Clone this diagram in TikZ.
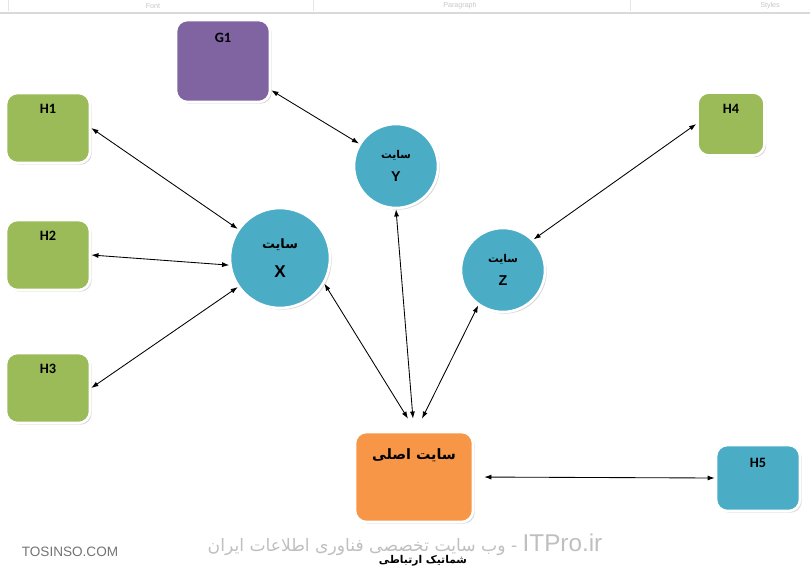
\documentclass[tikz,border=0pt]{standalone}
\usepackage{fontspec}
\setmainfont{Carlito}
\newfontfamily\arabicfont[Script=Arabic]{DejaVu Sans}
\newfontfamily\arialfont{Liberation Sans}
\TeXXeTstate=1
\usetikzlibrary{arrows.meta}
\usetikzlibrary{shadows}
\usetikzlibrary{calc}
\definecolor{cgreen}{HTML}{9BBB59}
\definecolor{cpurple}{HTML}{8064A2}
\definecolor{cblue}{HTML}{4BACC6}
\definecolor{corange}{HTML}{F79646}
\newcommand{\fatext}[1]{{\arabicfont\beginR #1\endR}}

\begin{document}
\begin{tikzpicture}[x=0.7pt, y=-0.7pt,
  box/.style={rectangle, rounded corners=8pt, draw=white, line width=1.8pt,
    drop shadow={shadow xshift=1.2pt, shadow yshift=-1.2pt, opacity=0.3},
    inner sep=0pt, font=\bfseries\fontsize{10}{12}\selectfont},
  gbox/.style={box, fill=cgreen, minimum width=58.8pt, text height=14.35pt, text depth=34.65pt},
  site/.style={circle, fill=cblue, draw=white, line width=1.8pt,
    drop shadow={shadow xshift=1.2pt, shadow yshift=-1.2pt, opacity=0.3},
    inner sep=0pt, align=center},
  link/.style={<->, >={Latex[length=5pt,width=3.5pt]}, line width=0.6pt},
  ribbon/.style={font=\arialfont\fontsize{5}{6}\selectfont, text=gray!45, inner sep=0pt},
]
\useasboundingbox (0,0) rectangle (810,574);
\clip (0,0) rectangle (810,574);
%% 리본 (위쪽 가장자리)
\draw[gray!30, line width=0.8pt] (0,13) -- (810,13);
\foreach \sx in {8,313,630} \draw[gray!20] (\sx,0) -- (\sx,11);
\node[ribbon] (rfont) at (153,6) {Font};
\node[ribbon] (rpara) at (460,6) {Paragraph};
\node[ribbon] (rstyle) at (770,6) {Styles};
%% 상자
\node[box, fill=cpurple, minimum width=65.8pt, text height=15.75pt, text depth=41.65pt] (g1) at (223,61) {G1};
\node[gbox] (h1) at (48,128) {H1};
\node[gbox] (h2) at (48,255) {H2};
\node[gbox] (h3) at (48,388) {H3};
\node[box, fill=cgreen, minimum width=46.9pt, text height=14.35pt, text depth=29.75pt] (h4) at (731,124) {H4};
\node[box, fill=cblue, minimum width=58.8pt, text height=15.75pt, text depth=30.45pt] (h5) at (758,478) {H5};
\node[box, fill=corange, minimum width=82.6pt, text height=18.9pt, text depth=44.1pt, font=\fontsize{10}{12}\selectfont] (main) at (414,477) {\fatext{\bfseries سایت اصلی}};
%% 원
\node[site, minimum size=70pt, font=\bfseries\fontsize{12}{14}\selectfont] (x) at (280,258) {{\fontsize{9}{11}\selectfont\fatext{سایت}}\\[6pt]{\arialfont X}};
\node[site, minimum size=58.8pt, font=\bfseries\fontsize{10}{12}\selectfont] (y) at (396,166) {{\fontsize{7.5}{9}\selectfont\fatext{سایت}}\\[4pt]{\arialfont Y}};
\node[site, minimum size=58.8pt, font=\bfseries\fontsize{10}{12}\selectfont] (z) at (503,270) {{\fontsize{7.5}{9}\selectfont\fatext{سایت}}\\[4pt]{\arialfont Z}};
%% 연결
\draw[link] (g1) -- (y);
\draw[link] (h1.east) -- (x);
\draw[link] (h2.east) -- (x.188);
\draw[link] (h3.east) -- (x);
\draw[link] (x.-30) -- ($(main.north)+(-6,-12)$);
\draw[link] (y.south) -- ($(main.north)+(-1,-12)$);
\draw[link] (z.-125) -- ($(main.north)+(8,-12)$);
\draw[link] (h4.west) -- (z.45);
\draw[link, shorten <=7pt] (main.east) -- (h5.west);
%% 아래 글자
\node[font=\arabicfont\fontsize{12}{14}\selectfont, text=gray!50] (wm) at (405,545) {\beginR\beginL{\arialfont\fontsize{17}{18}\selectfont ITPro.ir}\endL{} - وب سایت تخصصی فناوری اطلاعات ایران\endR};
\node[font=\arabicfont\bfseries\fontsize{7.5}{9}\selectfont] (cap) at (423,561) {\beginR شماتیک ارتباطی\endR};
\node[font=\arialfont\fontsize{9.5}{11}\selectfont, text=black!55] (tos) at (70,552) {TOSINSO.COM};
\end{tikzpicture}
\end{document}
